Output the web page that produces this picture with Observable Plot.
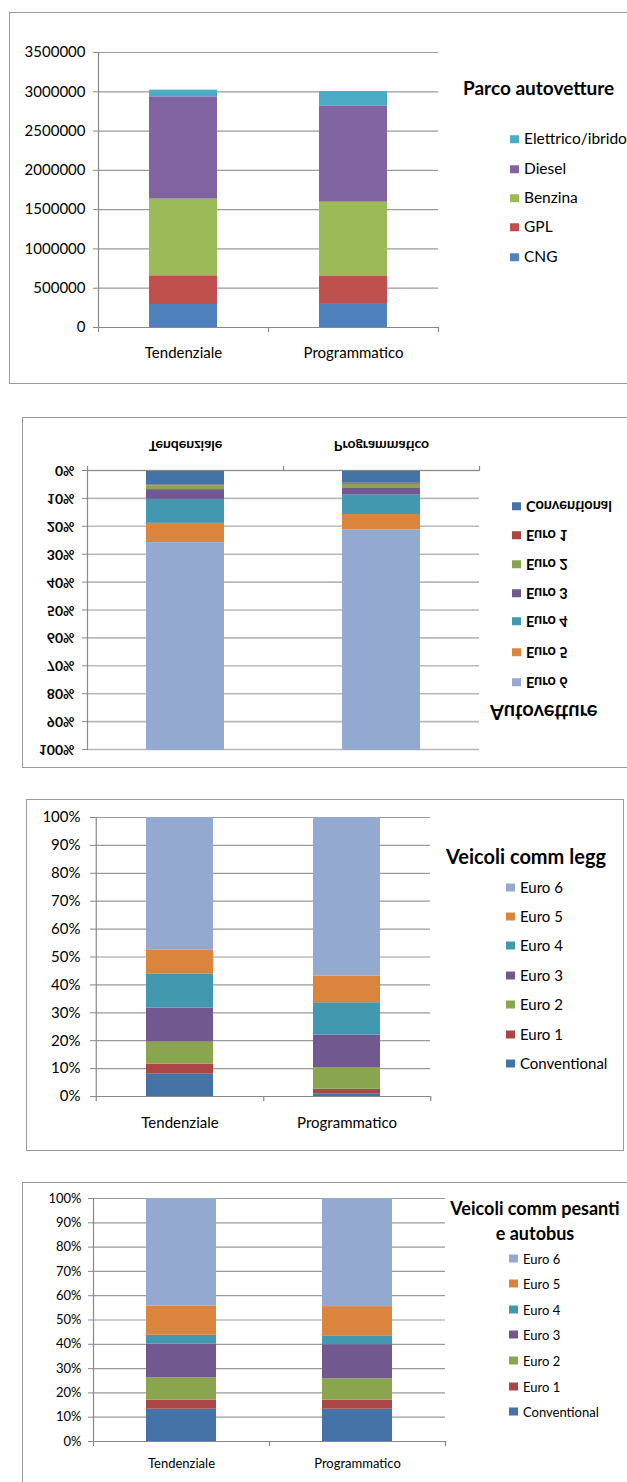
<!DOCTYPE html>
<html>
<head>
<meta charset="utf-8">
<script src="https://cdn.jsdelivr.net/npm/d3@7"></script>
<script src="https://cdn.jsdelivr.net/npm/@observablehq/plot@0.6"></script>
<style>
  html, body { margin: 0; padding: 0; background: #fff; }
  #page { position: relative; width: 627px; height: 1482px; overflow: hidden; font-family: Lato, "Open Sans", sans-serif; color: #000; }
  .panel { position: absolute; box-sizing: border-box; border: 1px solid #9a9a9a; background: #fff; }
  .panel svg { position: absolute; left: 0; top: 0; overflow: visible; }
  .lg { position: absolute; white-space: nowrap; line-height: 1; transform: translateY(-50%); }
  .sw { display: inline-block; width: 9px; height: 8px; margin-right: 5px; vertical-align: 1px; }
</style>
</head>
<body>
<div id="page"></div>
<script>
// ---------------- DATA ----------------
const categories = ["Tendenziale", "Programmatico"];

// Panel 1: Parco autovetture (vehicles)
const fuelSeries = ["CNG", "GPL", "Benzina", "Diesel", "Elettrico/ibrido"];
const fuelColors = ["#4F81BD", "#C0504D", "#9BBB59", "#8064A2", "#4BACC6"];
const fuelTendenziale = [293000, 365000, 976000, 1302000, 85000];
const fuelProgrammatico = [305000, 352000, 938000, 1226000, 182000];
const fuelTicks = [0, 500000, 1000000, 1500000, 2000000, 2500000, 3000000, 3500000];
const fuelTitle = ["Parco autovetture"];

// Euro classes (panels 2-4, percent shares)
const euroSeries = ["Conventional", "Euro 1", "Euro 2", "Euro 3", "Euro 4", "Euro 5", "Euro 6"];
const euroColors = ["#4572A7", "#AA4643", "#89A54E", "#71588F", "#4198AF", "#DB843D", "#93A9CF"];
const percentTicks = [0, 10, 20, 30, 40, 50, 60, 70, 80, 90, 100];

const autoTitle = ["Autovetture"];
const autoTendenziale = [4.9, 0.3, 1.3, 3.5, 8.6, 6.9, 74.5];
const autoProgrammatico = [4.2, 0.4, 1.3, 2.6, 6.9, 5.6, 79.0];

const leggTitle = ["Veicoli comm legg"];
const leggTendenziale = [8.0, 3.6, 7.9, 12.2, 12.1, 8.6, 47.6];
const leggProgrammatico = [1.0, 1.6, 7.8, 11.6, 11.6, 9.6, 56.8];

const pesTitle = ["Veicoli comm pesanti", "e autobus"];
const pesTendenziale = [13.3, 3.7, 9.2, 13.9, 3.6, 12.1, 44.2];
const pesProgrammatico = [13.3, 3.7, 8.8, 14.0, 3.7, 12.0, 44.5];

// ---------------- HELPERS ----------------
const FONT = 'Lato, "Open Sans", sans-serif';

function toRows(series, perCategory) {
  const rows = [];
  categories.forEach((c, ci) => {
    series.forEach((s, si) => rows.push({category: c, series: s, value: perCategory[ci][si]}));
  });
  return rows;
}

function makePanel(box) {
  const d = document.createElement("div");
  d.className = "panel";
  Object.assign(d.style, {left: box.left + "px", top: box.top + "px", width: box.width + "px", height: box.height + "px"});
  if (box.flip) d.style.transform = "scaleY(-1)";
  document.getElementById("page").appendChild(d);
  return d;
}

function drawChart(panel, rows, series, colors, yDomain, yTicks, yFormat, L) {
  const step = (L.width - L.ml - L.mr) / categories.length;
  const axisColor = L.axisColor;
  const tick = (cat, dx) => Plot.ruleX([cat], {dx, y1: yDomain[0], y2: yDomain[0], insetBottom: -5, stroke: axisColor, strokeWidth: 1.2});
  const svg = Plot.plot({
    width: L.width, height: L.height,
    marginLeft: L.ml, marginRight: L.mr, marginTop: L.mt, marginBottom: L.mb,
    style: {fontFamily: FONT, fontSize: L.font + "px", fontWeight: L.weight, color: "#000", background: "none", overflow: "visible"},
    x: {domain: categories, paddingInner: 0.6, paddingOuter: 0.3, label: null},
    y: {domain: yDomain, label: null},
    color: {domain: series, range: colors},
    marks: [
      Plot.gridY(yTicks, {stroke: L.gridColor, strokeOpacity: 1, strokeWidth: L.gridWidth}),
      Plot.barY(rows, {x: "category", y: "value", fill: "series"}),
      Plot.ruleY([yDomain[0]], {stroke: axisColor, strokeWidth: 1.2}),
      Plot.ruleX([categories[0]], {dx: -step / 2, stroke: axisColor, strokeWidth: 1.2}),
      tick(categories[0], -step / 2),
      tick(categories[0], step / 2),
      tick(categories[1], step / 2),
      Plot.axisY(yTicks, {tickFormat: yFormat, tickSize: 5, tickPadding: L.yPad, stroke: axisColor}),
      Plot.axisX({tickSize: 0, tickPadding: L.xPad})
    ]
  });
  panel.appendChild(svg);
}

function drawLegend(panel, series, colors, title, G) {
  const t = document.createElement("div");
  t.className = "lg";
  Object.assign(t.style, {left: G.titleX + "px", top: G.titleY + "px", fontWeight: "bold", fontSize: G.titleSize + "px", lineHeight: G.titleLine + "px"});
  if (G.titleCenter) { t.style.transform = "translate(-50%,-50%)"; t.style.textAlign = "center"; }
  t.innerHTML = title.join("<br>");
  panel.appendChild(t);
  const order = series.map((s, i) => i).reverse();
  order.forEach((si, k) => {
    const it = document.createElement("div");
    it.className = "lg";
    Object.assign(it.style, {left: G.swatchX + "px", top: G.ys[k] + "px", fontSize: G.font + "px", fontWeight: G.weight});
    const sw = document.createElement("span");
    sw.className = "sw";
    sw.style.background = colors[si];
    it.appendChild(sw);
    it.appendChild(document.createTextNode(series[si]));
    panel.appendChild(it);
  });
}

// ---------------- LAYOUT ----------------
const pct = d => d + "%";
const intFmt = d3.format("d");

// Panel 1
const p1 = makePanel({left: 9, top: 12, width: 660, height: 372});
drawChart(p1, toRows(fuelSeries, [fuelTendenziale, fuelProgrammatico]), fuelSeries, fuelColors,
  [0, 3500000], fuelTicks, intFmt,
  {width: 440, height: 370, ml: 88, mr: 12, mt: 39, mb: 56, font: 15, weight: "normal", yPad: 8, xPad: 20,
   gridColor: "#9a9a9a", gridWidth: 1.2, axisColor: "#888"});
drawLegend(p1, fuelSeries, fuelColors, fuelTitle,
  {titleX: 453, titleY: 75, titleSize: 19, titleLine: 24, swatchX: 500, font: 15.5, weight: "normal",
   ys: [126, 156, 185, 214, 244]});

// Panel 2 (vertically flipped)
const p2 = makePanel({left: 22, top: 417, width: 660, height: 351, flip: true});
drawChart(p2, toRows(euroSeries, [autoTendenziale, autoProgrammatico]), euroSeries, euroColors,
  [0, 100], percentTicks, pct,
  {width: 470, height: 349, ml: 64, mr: 14, mt: 17, mb: 53, font: 14, weight: "bold", yPad: 8, xPad: 20,
   gridColor: "#b8b8b8", gridWidth: 1.6, axisColor: "#8a8a8a"});
drawLegend(p2, euroSeries, euroColors, autoTitle,
  {titleX: 467, titleY: 54, titleSize: 20, titleLine: 24, swatchX: 489, font: 14.5, weight: "bold",
   ys: [85, 115, 146, 174, 203, 232, 261]});

// Panel 3
const p3 = makePanel({left: 26, top: 799, width: 598, height: 352});
drawChart(p3, toRows(euroSeries, [leggTendenziale, leggProgrammatico]), euroSeries, euroColors,
  [0, 100], percentTicks, pct,
  {width: 420, height: 349, ml: 68, mr: 17, mt: 17, mb: 53, font: 15, weight: "normal", yPad: 10, xPad: 21,
   gridColor: "#9a9a9a", gridWidth: 1.2, axisColor: "#888"});
drawLegend(p3, euroSeries, euroColors, leggTitle,
  {titleX: 419, titleY: 56, titleSize: 20, titleLine: 24, swatchX: 479, font: 15, weight: "normal",
   ys: [87, 116, 145, 175, 204, 234, 263]});

// Panel 4
const p4 = makePanel({left: 22, top: 1182, width: 660, height: 340});
drawChart(p4, toRows(euroSeries, [pesTendenziale, pesProgrammatico]), euroSeries, euroColors,
  [0, 100], percentTicks, pct,
  {width: 440, height: 298, ml: 70, mr: 18, mt: 15, mb: 40, font: 13, weight: "normal", yPad: 7, xPad: 17,
   gridColor: "#9a9a9a", gridWidth: 1.2, axisColor: "#888"});
drawLegend(p4, euroSeries, euroColors, pesTitle,
  {titleX: 512, titleY: 38, titleSize: 18, titleLine: 25, titleCenter: true, swatchX: 486, font: 13, weight: "normal",
   ys: [76, 101, 127, 152, 178, 204, 229]});
</script>
</body>
</html>
